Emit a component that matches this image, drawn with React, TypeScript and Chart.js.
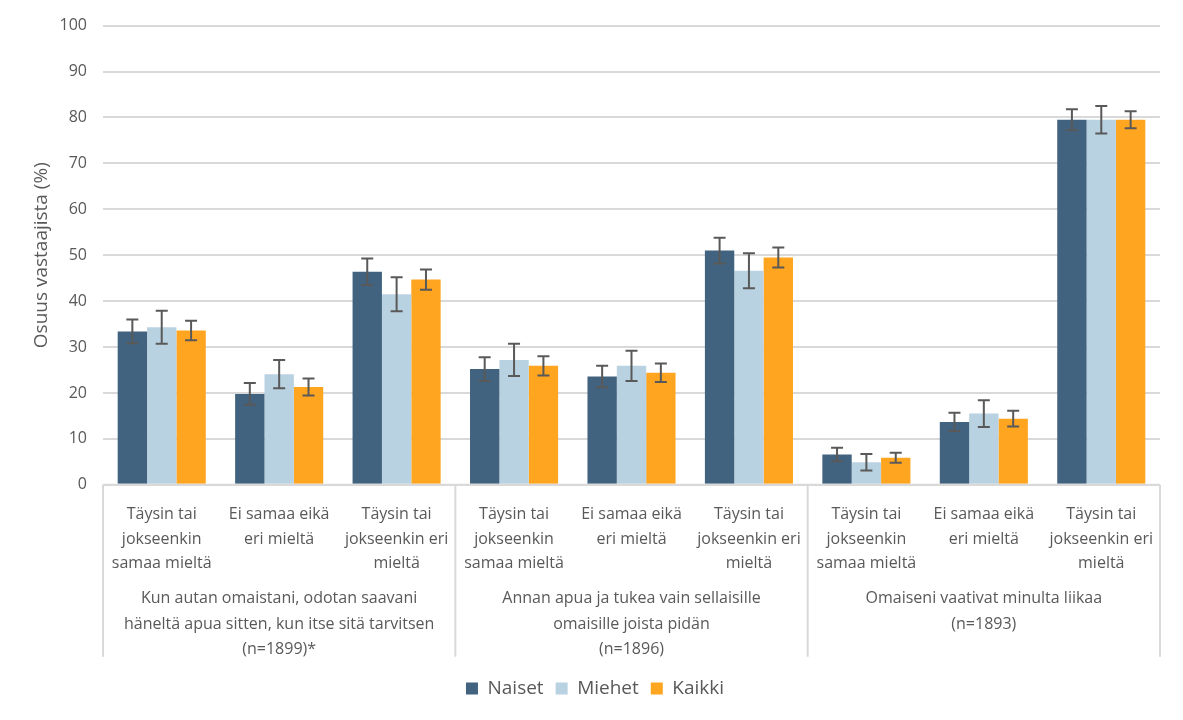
import React, { useEffect, useRef } from "react";
import { Chart, registerables } from "chart.js";

Chart.register(...registerables);

const categories: string[][] = [
  ["Täysin tai", "jokseenkin", "samaa mieltä"],
  ["Ei samaa eikä", "eri mieltä"],
  ["Täysin tai", "jokseenkin eri", "mieltä"],
  ["Täysin tai", "jokseenkin", "samaa mieltä"],
  ["Ei samaa eikä", "eri mieltä"],
  ["Täysin tai", "jokseenkin eri", "mieltä"],
  ["Täysin tai", "jokseenkin", "samaa mieltä"],
  ["Ei samaa eikä", "eri mieltä"],
  ["Täysin tai", "jokseenkin eri", "mieltä"],
];

const groups: string[][] = [
  ["Kun autan omaistani, odotan saavani", "häneltä apua sitten, kun itse sitä tarvitsen", "(n=1899)*"],
  ["Annan apua ja tukea vain sellaisille", "omaisille joista pidän", "(n=1896)"],
  ["Omaiseni vaativat minulta liikaa", "(n=1893)"],
];

const naiset = [33.4, 19.8, 46.4, 25.2, 23.6, 51.0, 6.6, 13.7, 79.5];
const miehet = [34.3, 24.1, 41.5, 27.2, 25.9, 46.6, 4.9, 15.5, 79.5];
const kaikki = [33.6, 21.3, 44.7, 25.9, 24.4, 49.5, 5.9, 14.4, 79.5];

const naisetErr = [2.6, 2.35, 2.9, 2.6, 2.35, 2.8, 1.45, 2.0, 2.3];
const miehetErr = [3.6, 3.1, 3.7, 3.5, 3.3, 3.8, 1.8, 2.9, 3.0];
const kaikkiErr = [2.1, 1.85, 2.2, 2.1, 2.0, 2.2, 1.1, 1.7, 1.85];

const yTicks = [0, 10, 20, 30, 40, 50, 60, 70, 80, 90, 100];

const TEXT = "#595959";
const GRID = "#d9d9d9";
const FONT = "'Open Sans', sans-serif";

const errorBarPlugin = {
  id: "errorBars",
  afterDatasetsDraw(chart: any) {
    const ctx = chart.ctx;
    const yScale = chart.scales.y;
    ctx.save();
    ctx.strokeStyle = "#595959";
    ctx.lineWidth = 2;
    chart.data.datasets.forEach((ds: any, i: number) => {
      const meta = chart.getDatasetMeta(i);
      meta.data.forEach((bar: any, j: number) => {
        const v = ds.data[j];
        const e = ds.errors[j];
        const yt = yScale.getPixelForValue(v + e);
        const yb = yScale.getPixelForValue(v - e);
        const x = bar.x;
        const cap = 6;
        ctx.beginPath();
        ctx.moveTo(x, yt);
        ctx.lineTo(x, yb);
        ctx.moveTo(x - cap, yt);
        ctx.lineTo(x + cap, yt);
        ctx.moveTo(x - cap, yb);
        ctx.lineTo(x + cap, yb);
        ctx.stroke();
      });
    });
    ctx.restore();
  },
};

const separatorPlugin = {
  id: "separators",
  afterDraw(chart: any) {
    const ctx = chart.ctx;
    const x = chart.scales.x;
    const x2 = chart.scales.x2;
    const n = categories.length;
    const top = chart.chartArea.bottom;
    const bottom = x2.bottom;
    const positions: number[] = [];
    for (let i = 0; i <= n; i += 3) {
      if (i === 0) positions.push(x.left);
      else if (i === n) positions.push(x.right);
      else positions.push((x.getPixelForTick(i - 1) + x.getPixelForTick(i)) / 2);
    }
    ctx.save();
    ctx.strokeStyle = GRID;
    ctx.lineWidth = 2;
    ctx.beginPath();
    ctx.moveTo(x.left, top);
    ctx.lineTo(x.right, top);
    positions.forEach((px) => {
      ctx.moveTo(px, top);
      ctx.lineTo(px, bottom);
    });
    ctx.stroke();
    ctx.restore();
  },
};

export default function App() {
  const ref = useRef<HTMLCanvasElement>(null);
  useEffect(() => {
    if (!ref.current) return;
    const chart = new Chart(ref.current, {
      type: "bar",
      data: {
        labels: categories,
        datasets: [
          { label: "Naiset", data: naiset, errors: naisetErr, backgroundColor: "#42637F" } as any,
          { label: "Miehet", data: miehet, errors: miehetErr, backgroundColor: "#B9D2E1" } as any,
          { label: "Kaikki", data: kaikki, errors: kaikkiErr, backgroundColor: "#FFA520" } as any,
        ],
      },
      options: {
        animation: false,
        responsive: false,
        maintainAspectRatio: false,
        datasets: { bar: { categoryPercentage: 0.75, barPercentage: 1.0 } },
        layout: { padding: { top: 22, right: 23, bottom: 12, left: 30 } },
        scales: {
          y: {
            min: 0,
            max: 100,
            afterBuildTicks(scale: any) {
              scale.ticks = yTicks.map((v) => ({ value: v }));
            },
            afterFit(scale: any) {
              scale.width = 73;
            },
            border: { display: false },
            grid: { color: GRID, lineWidth: 2, drawTicks: false },
            ticks: { color: TEXT, font: { family: FONT, size: 16 }, padding: 16 },
            title: {
              display: true,
              text: "Osuus vastaajista (%)",
              color: TEXT,
              font: { family: FONT, size: 19 },
              padding: { top: 0, bottom: 0 },
            },
          },
          x: {
            type: "category",
            position: "bottom",
            grid: { display: false, drawTicks: false },
            border: { display: false },
            ticks: {
              color: TEXT,
              font: { family: FONT, size: 16, lineHeight: 1.55 },
              padding: 17,
              maxRotation: 0,
              autoSkip: false,
            },
            afterFit(scale: any) {
              scale.height = 95;
            },
          },
          x2: {
            type: "category",
            position: "bottom",
            labels: groups as any,
            offset: true,
            grid: { display: false, drawTicks: false },
            border: { display: false },
            ticks: {
              color: TEXT,
              font: { family: FONT, size: 16, lineHeight: 1.6 },
              padding: 6,
              maxRotation: 0,
              autoSkip: false,
            },
            afterFit(scale: any) {
              scale.height = 77;
            },
          },
        } as any,
        plugins: {
          legend: {
            position: "bottom",
            title: {
              display: true,
              text: " ",
              font: { size: 1 },
              padding: { top: 9, bottom: 0 },
            },
            labels: {
              color: TEXT,
              font: { family: FONT, size: 19 },
              boxWidth: 12,
              boxHeight: 12,
              padding: 12,
            },
          },
          tooltip: { enabled: false },
        },
      },
      plugins: [errorBarPlugin, separatorPlugin],
    });
    return () => chart.destroy();
  }, []);
  return (
    <div style={{ position: "fixed", left: 0, top: 0, width: 1183, height: 720, background: "#fff" }}>
      <canvas ref={ref} width={1183} height={720} style={{ width: 1183, height: 720 }} />
    </div>
  );
}
